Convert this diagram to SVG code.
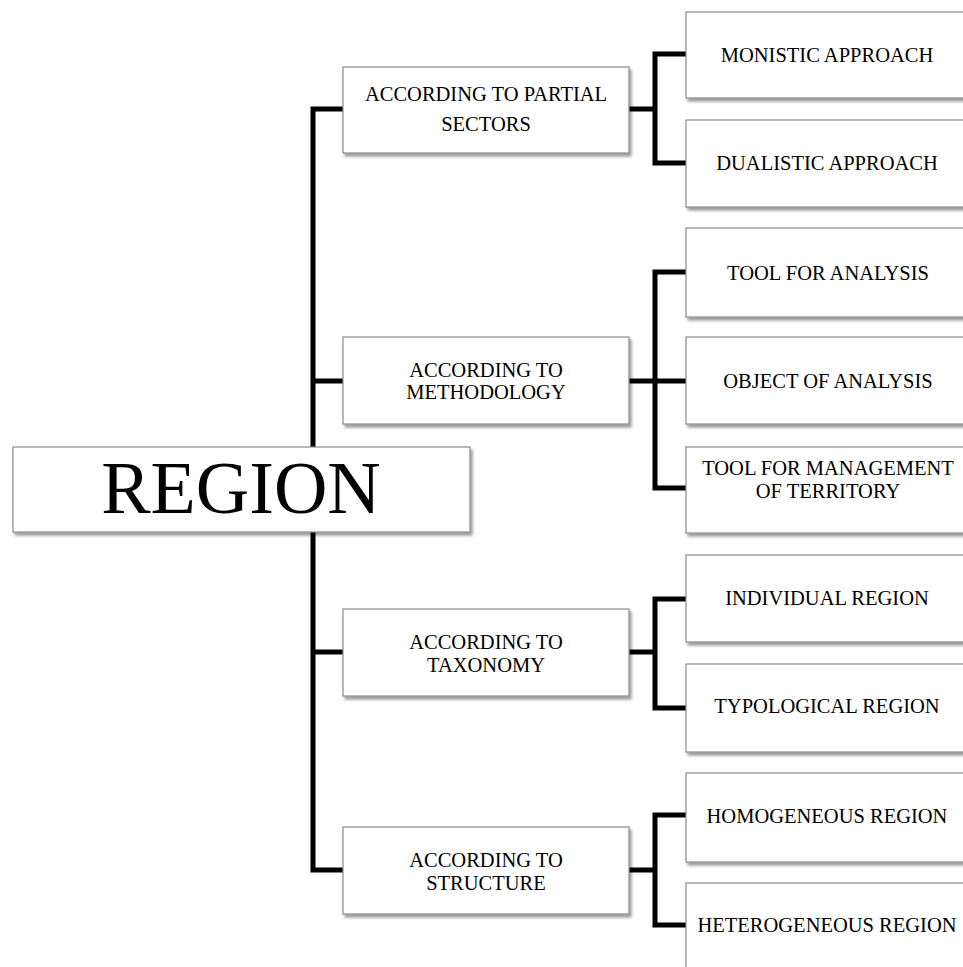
<svg xmlns="http://www.w3.org/2000/svg" width="963" height="967" viewBox="0 0 963 967">
<defs>
<filter id="sh" x="-5%" y="-10%" width="115%" height="130%">
<feDropShadow dx="2" dy="3" stdDeviation="1.5" flood-color="#000" flood-opacity="0.4"/>
</filter>
<style>
.box{fill:#fff;stroke:#8a8a8a;stroke-width:1.2;filter:url(#sh)}
.t{font-family:"Liberation Serif","Times New Roman",serif;font-size:20.5px;fill:#000;text-anchor:middle}
.big{font-family:"Liberation Serif","Times New Roman",serif;font-size:74px;fill:#000;text-anchor:middle}
.c{fill:none;stroke:#000;stroke-width:5;stroke-linejoin:miter}
</style>
</defs>
<rect width="963" height="967" fill="#fff"/>
<g id="connectors">
<path class="c" d="M343,109 H313 V870 H343"/>
<path class="c" d="M313,381 H343 M313,652 H343"/>
<path class="c" d="M629,109 H655 M686,54 H655 V163 H686"/>
<path class="c" d="M629,381 H686 M686,272 H655 V488 H686"/>
<path class="c" d="M629,652 H655 M686,599 H655 V708 H686"/>
<path class="c" d="M629,870 H655 M686,815 H655 V925 H686"/>
</g>
<g id="region">
<rect class="box" x="13" y="447" width="457" height="85"/>
<text class="big" x="241" y="513">REGION</text>
</g>
<g id="partial">
<rect class="box" x="343" y="67" width="286" height="86"/>
<text class="t" x="486" y="101">ACCORDING TO PARTIAL</text>
<text class="t" x="486" y="131">SECTORS</text>
</g>
<g id="methodology">
<rect class="box" x="343" y="337" width="286" height="87"/>
<text class="t" x="486" y="377">ACCORDING TO</text>
<text class="t" x="486" y="399">METHODOLOGY</text>
</g>
<g id="taxonomy">
<rect class="box" x="343" y="609" width="286" height="87"/>
<text class="t" x="486" y="649">ACCORDING TO</text>
<text class="t" x="486" y="672">TAXONOMY</text>
</g>
<g id="structure">
<rect class="box" x="343" y="827" width="286" height="87"/>
<text class="t" x="486" y="867">ACCORDING TO</text>
<text class="t" x="486" y="890">STRUCTURE</text>
</g>
<g id="monistic">
<rect class="box" x="686" y="12" width="285" height="86"/>
<text class="t" x="827" y="62">MONISTIC APPROACH</text>
</g>
<g id="dualistic">
<rect class="box" x="686" y="120" width="285" height="87"/>
<text class="t" x="827" y="170">DUALISTIC APPROACH</text>
</g>
<g id="tool-analysis">
<rect class="box" x="686" y="228" width="285" height="89"/>
<text class="t" x="828" y="280">TOOL FOR ANALYSIS</text>
</g>
<g id="object-analysis">
<rect class="box" x="686" y="337" width="285" height="87"/>
<text class="t" x="828" y="388">OBJECT OF ANALYSIS</text>
</g>
<g id="tool-management">
<rect class="box" x="686" y="447" width="285" height="86"/>
<text class="t" x="828" y="475">TOOL FOR MANAGEMENT</text>
<text class="t" x="828" y="498">OF TERRITORY</text>
</g>
<g id="individual">
<rect class="box" x="686" y="555" width="285" height="87"/>
<text class="t" x="827" y="605">INDIVIDUAL REGION</text>
</g>
<g id="typological">
<rect class="box" x="686" y="664" width="285" height="88"/>
<text class="t" x="827" y="713">TYPOLOGICAL REGION</text>
</g>
<g id="homogeneous">
<rect class="box" x="686" y="773" width="285" height="89"/>
<text class="t" x="827" y="823">HOMOGENEOUS REGION</text>
</g>
<g id="heterogeneous">
<rect class="box" x="686" y="883" width="285" height="90"/>
<text class="t" x="827" y="932">HETEROGENEOUS REGION</text>
</g>
</svg>
